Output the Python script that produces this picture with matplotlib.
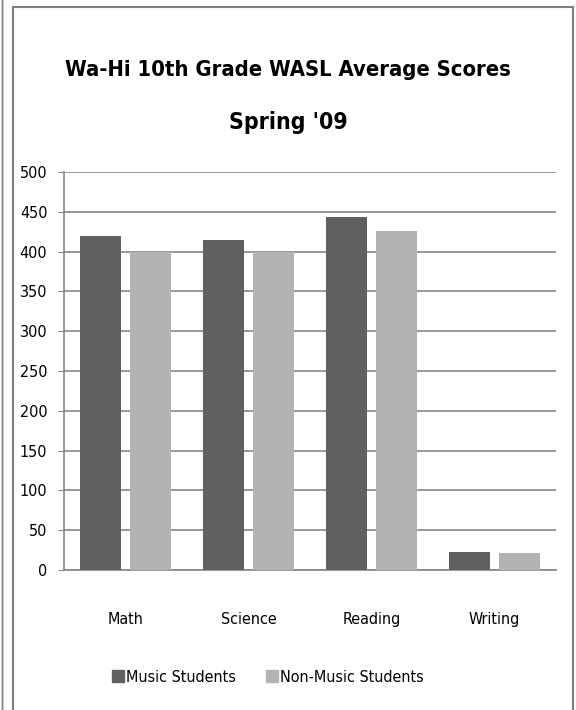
import matplotlib
matplotlib.use("Agg")
import matplotlib.pyplot as plt
from matplotlib.patches import Rectangle
from matplotlib.lines import Line2D
import numpy as np

categories = ["Math", "Science", "Reading", "Writing"]
music = [420, 415, 443, 23]
non_music = [400, 399, 426, 21]
series_names = ["Music Students", "Non-Music Students"]
yticks = [0, 50, 100, 150, 200, 250, 300, 350, 400, 450, 500]

# narrow look, close to the original Calibri
plt.rcParams['font.family'] = ['DejaVu Sans']
plt.rcParams['font.stretch'] = 'condensed'

fig = plt.figure(figsize=(5.76, 7.1), dpi=100)
W, H = 576, 710

# outer frame of the chart
fig.patches.append(Rectangle((13 / W, -0.05), (573 - 13) / W, 1.05 - 7 / H,
                             transform=fig.transFigure, fill=False,
                             edgecolor="#808080", lw=1.5))
fig.patches.append(Rectangle((1.5 / W, -0.05), 0.0, 1.1,
                             transform=fig.transFigure, fill=False,
                             edgecolor="#808080", lw=1.0))

ax = fig.add_axes([64 / W, (H - 570) / H, (556 - 64) / W, (570 - 172) / H])

c_music = "#606060"
c_non = "#b3b3b3"
x = np.arange(len(categories))
w = 0.33
ax.bar(x - 0.205, music, w, color=c_music, zorder=3)
ax.bar(x + 0.205, non_music, w, color=c_non, zorder=3)

ax.set_xlim(-0.5, 3.5)
ax.set_ylim(0, 500)
ax.set_yticks(yticks)
ax.set_xticks(x)
ax.set_xticklabels(categories)
ax.yaxis.grid(True, color="#868686", lw=1.2, zorder=0)
for s in ["top", "right"]:
    ax.spines[s].set_visible(False)
ax.spines["left"].set_color("#868686")
ax.spines["bottom"].set_color("#868686")
ax.spines["left"].set_linewidth(1.2)
ax.spines["bottom"].set_linewidth(1.2)
ax.tick_params(axis="y", length=4, color="#868686", labelsize=11.5, pad=8)
ax.tick_params(axis="x", length=0, labelsize=11.5, pad=30)

t1 = fig.text(288 / W, 1 - 70 / H, "Wa-Hi 10th Grade WASL Average Scores",
              ha="center", va="center", fontsize=23, fontweight="bold")
t2 = fig.text(288 / W, 1 - 123 / H, "Spring '09",
              ha="center", va="center", fontsize=23, fontweight="bold")

# shrink the title so its first line is about as wide as in the original
r = fig.canvas.get_renderer()
wid = t1.get_window_extent(r).width
fs = 23 * 445 / wid
t1.set_fontsize(fs)
t2.set_fontsize(fs * 1.05)

handles = [Line2D([], [], marker="s", ls="", color=c_music, markersize=9),
           Line2D([], [], marker="s", ls="", color=c_non, markersize=9)]
fig.legend(handles, series_names, loc="center", ncol=2,
           bbox_to_anchor=(267 / W, 1 - 677 / H), frameon=False,
           fontsize=11.5, handletextpad=0.0, columnspacing=1.8,
           handlelength=1.0)

fig.savefig("out.png", dpi=100)
